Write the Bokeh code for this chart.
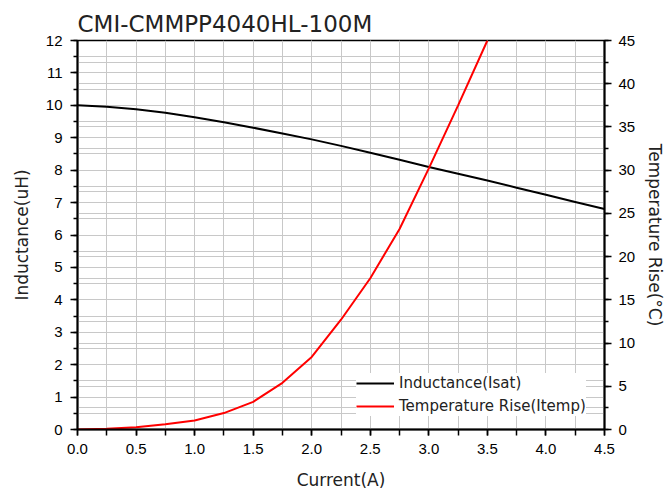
from bokeh.plotting import figure
from bokeh.models import (Range1d, LinearAxis, Grid, SingleIntervalTicker, Legend,
                          LegendItem, NumeralTickFormatter)
from bokeh.embed import file_html
from bokeh.resources import INLINE

# ---- data ----
current = [0.0, 0.25, 0.5, 0.75, 1.0, 1.25, 1.5, 1.75, 2.0, 2.25, 2.5, 2.75,
           3.0, 3.25, 3.5, 3.75, 4.0, 4.25, 4.5]
inductance = [10.0, 9.96, 9.88, 9.77, 9.63, 9.48, 9.31, 9.13, 8.95, 8.75, 8.54,
              8.32, 8.10, 7.89, 7.68, 7.46, 7.24, 7.02, 6.80]
temp_current = [0.0, 0.25, 0.5, 0.75, 1.0, 1.25, 1.5, 1.75, 2.0, 2.25, 2.5,
                2.75, 3.0, 3.25, 3.5]
temp_rise = [0.0, 0.08, 0.27, 0.6, 1.05, 1.9, 3.2, 5.4, 8.4, 12.7, 17.5,
             23.2, 30.2, 37.5, 45.0]

title_text = "CMI-CMMPP4040HL-100M"
x_label = "Current(A)"
y_label = "Inductance(uH)"
y2_label = "Temperature Rise(°C)"
series_names = ["Inductance(Isat)", "Temperature Rise(Itemp)"]

LABEL_FONT = "DejaVu Sans"
TICK_FONT = "Liberation Sans"
GRID = "#c8c8c8"

p = figure(width=671, height=492, x_range=Range1d(0, 4.5), y_range=Range1d(0, 12),
           output_backend="svg", toolbar_location=None,
           min_border_left=77, min_border_right=67, min_border_top=40,
           min_border_bottom=63, title=title_text)
p.extra_y_ranges = {"temp": Range1d(0, 45)}

p.title.text_font = LABEL_FONT
p.title.text_font_size = "23px"
p.title.text_font_style = "normal"
p.title.text_color = "#222222"
p.title.align = "left"
p.title.standoff = 8

p.outline_line_color = "black"
p.outline_line_width = 1.5
p.background_fill_color = "white"
p.border_fill_color = "white"

# axes
p.xaxis.ticker = SingleIntervalTicker(interval=0.5, num_minor_ticks=2)
p.xaxis.formatter = NumeralTickFormatter(format="0.0")
p.yaxis.ticker = SingleIntervalTicker(interval=1, num_minor_ticks=2)
right = LinearAxis(y_range_name="temp",
                   ticker=SingleIntervalTicker(interval=5, num_minor_ticks=2))
p.add_layout(right, "right")

p.xaxis.axis_label = x_label
p.yaxis.axis_label = y_label
right.axis_label = y2_label

for ax in [p.xaxis[0], p.yaxis[0], right]:
    ax.axis_line_width = 2
    ax.axis_line_color = "black"
    ax.major_tick_line_color = "black"
    ax.minor_tick_line_color = "black"
    ax.major_tick_line_width = 1.5
    ax.minor_tick_line_width = 1.5
    ax.major_tick_out = 7
    ax.major_tick_in = 0
    ax.minor_tick_out = 4
    ax.minor_tick_in = 0
    ax.major_label_text_font = TICK_FONT
    ax.major_label_text_font_size = "15px"
    ax.major_label_text_color = "black"
    ax.axis_label_text_font = LABEL_FONT
    ax.axis_label_text_font_size = "17px"
    ax.axis_label_text_font_style = "normal"
    ax.axis_label_text_color = "#222222"

p.xaxis.minor_tick_out = 6
p.xaxis.major_tick_out = 6
p.xaxis.major_label_standoff = 8
p.xaxis.axis_label_standoff = 13
p.yaxis.major_label_standoff = 8
p.yaxis.axis_label_standoff = 11
right.major_label_standoff = 7
right.axis_label_standoff = 7

# grids
p.xgrid.grid_line_color = GRID
p.xgrid.minor_grid_line_color = GRID
p.ygrid.grid_line_color = GRID
p.ygrid.minor_grid_line_color = GRID
g2 = Grid(dimension=1, ticker=right.ticker, y_range_name="temp",
          grid_line_color=GRID, minor_grid_line_color=GRID)
p.add_layout(g2)

# lines
r1 = p.line(current, inductance, line_color="black", line_width=2)
r2 = p.line(temp_current, temp_rise, line_color="#ff0000", line_width=2,
            y_range_name="temp")

legend = Legend(items=[LegendItem(label=series_names[0], renderers=[r1]),
                       LegendItem(label=series_names[1], renderers=[r2])],
                location=(279, 13))
legend.glyph_width = 38
legend.glyph_height = 20
legend.label_height = 20
legend.spacing = 3
legend.padding = 5
legend.margin = 0
legend.label_standoff = 5
legend.label_text_font = LABEL_FONT
legend.label_text_font_size = "15px"
legend.label_text_color = "#222222"
legend.border_line_color = None
legend.background_fill_color = "white"
legend.background_fill_alpha = 1.0
p.add_layout(legend)

open("out.html", "w").write(file_html(p, INLINE))
